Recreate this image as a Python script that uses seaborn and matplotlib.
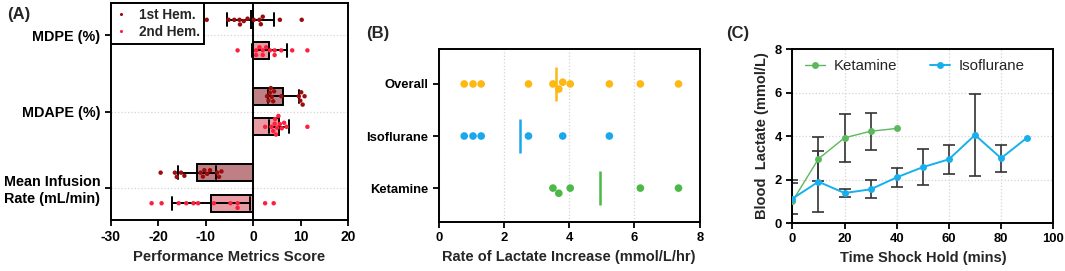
import numpy as np
import pandas as pd
import matplotlib
matplotlib.use('Agg')
import matplotlib.pyplot as plt
import seaborn as sns

# ---- panel A: performance metrics per hemorrhage
metrics = ['MDPE (%)', 'MDAPE (%)', 'Mean Infusion\nRate (mL/min)']
hems = ['1st Hem.', '2nd Hem.']
mdpe_1st = [-9.8, -5.2, -4.0, -2.9, -2.8, -2.0, -1.2, 0.1, 1.3, 1.6, 2.0, 5.6, 10.2]
mdpe_2nd = [-3.3, 0.6, 1.3, 2.0, 0.6, 2.0, 2.7, 3.5, 4.5, 4.5, 5.9, 8.2, 11.4]
mdape_1st = [2.9, 3.2, 3.5, 3.7, 3.9, 4.2, 4.4, 5.9, 9.6, 9.9, 10.1, 10.4, 10.8]
mdape_2nd = [2.5, 3.8, 4.2, 4.5, 4.6, 4.8, 5.0, 5.3, 5.6, 6.0, 6.5, 7.0, 11.4]
rate_1st = [-19.5, -16.5, -16.1, -15.2, -14.5, -11.1, -10.6, -10.3, -9.7, -9.1, -7.6, -6.7, -7.2]
rate_2nd = [-21.4, -19.3, -15.7, -14.1, -12.6, -11.6, -8.3, -4.8, -3.3, -3.3, 2.5, 4.3]

# ---- panel B: rate of lactate increase
groups_b = ['Overall', 'Isoflurane', 'Ketamine']
iso_rate = [0.78, 1.05, 1.30, 2.75, 3.80, 5.23]
ket_rate = [3.50, 3.68, 4.03, 6.18, 7.35]
overall_rate = [0.78, 1.05, 1.30, 2.75, 3.50, 3.68, 3.80, 4.03, 5.23, 6.18, 7.35]

# ---- panel C: blood lactate over time
ket_time = [0, 10, 20, 30, 40]
ket_mean = [1.00, 2.95, 3.92, 4.22, 4.35]
ket_sd = [0.98, 1.00, 1.10, 0.85, np.nan]
iso_time = [0, 10, 20, 30, 40, 50, 60, 70, 80, 90]
iso_mean = [1.12, 1.90, 1.38, 1.55, 2.10, 2.57, 2.93, 4.05, 2.98, 3.93]
iso_sd = [0.70, 1.40, 0.17, 0.42, 0.45, 0.82, 0.67, 1.90, 0.62, np.nan]

sns.set_theme(style='ticks')
plt.rcParams['font.family'] = ['Liberation Sans', 'DejaVu Sans']
plt.rcParams['font.weight'] = 'bold'
plt.rcParams['axes.labelweight'] = 'bold'
plt.rcParams['axes.unicode_minus'] = False
plt.rcParams['axes.edgecolor'] = 'black'
plt.rcParams['axes.linewidth'] = 1.4
plt.rcParams['xtick.major.width'] = 1.3
plt.rcParams['ytick.major.width'] = 1.3
plt.rcParams['xtick.major.size'] = 4
plt.rcParams['ytick.major.size'] = 4
plt.rcParams['xtick.color'] = 'black'
plt.rcParams['ytick.color'] = 'black'

hem_colors = {'1st Hem.': '#9b0d0d', '2nd Hem.': '#ff1f3d'}
bar_colors = {'1st Hem.': '#c9767c', '2nd Hem.': '#f58e98'}
b_colors = {'Overall': '#fdb813', 'Isoflurane': '#1aa7ec', 'Ketamine': '#4cb848'}
green = '#5cb85c'
blue = '#18b0ec'
grid_kw = dict(color='#d4d4d4', linestyle=':', linewidth=0.9)

fig = plt.figure(figsize=(10.65, 2.71), dpi=100)
axA = fig.add_axes([0.104, 0.188, 0.223, 0.801])
axB = fig.add_axes([0.412, 0.181, 0.245, 0.638])
axC = fig.add_axes([0.744, 0.177, 0.245, 0.642])

# ---------- (A)
rows = []
for m, vals1, vals2 in zip(metrics, [mdpe_1st, mdape_1st, rate_1st], [mdpe_2nd, mdape_2nd, rate_2nd]):
    rows += [(m, hems[0], v) for v in vals1]
    rows += [(m, hems[1], v) for v in vals2]
dfA = pd.DataFrame(rows, columns=['metric', 'hem', 'score'])

sns.barplot(data=dfA, x='score', y='metric', hue='hem', order=metrics, hue_order=hems,
            palette=bar_colors, errorbar='sd', capsize=0.35, gap=0.45,
            edgecolor='black', linewidth=1.4, err_kws={'color': 'black', 'linewidth': 1.4},
            legend=False, ax=axA)
sns.swarmplot(data=dfA, x='score', y='metric', hue='hem', order=metrics, hue_order=hems,
              palette=hem_colors, dodge=True, size=3.2, ax=axA)
axA.axvline(0, color='black', linewidth=1.4, zorder=1)
axA.set_xlim(-30, 20)
axA.set_ylim(2.42, -0.42)
axA.set_xticks([-30, -20, -10, 0, 10, 20])
axA.set_xlabel('Performance Metrics Score', fontsize=10.7)
axA.set_ylabel('')
axA.grid(axis='y', **grid_kw)
axA.set_axisbelow(True)
axA.tick_params(axis='x', labelsize=10)
axA.tick_params(axis='y', labelsize=10.4)
for t in axA.get_yticklabels():
    t.set_multialignment('center')
leg = axA.legend(loc='upper left', bbox_to_anchor=(0.0, 1.0), borderaxespad=0, fontsize=9.8,
                 frameon=True, fancybox=False, edgecolor='black', handletextpad=0.9,
                 handlelength=0.8, borderpad=0.35, labelspacing=0.25, markerscale=0.7,
                 framealpha=1)
leg.get_frame().set_linewidth(1.4)

# ---------- (B)
dfB = pd.DataFrame(
    [('Overall', v) for v in overall_rate]
    + [('Isoflurane', v) for v in iso_rate]
    + [('Ketamine', v) for v in ket_rate],
    columns=['group', 'rate'])
sns.swarmplot(data=dfB, x='rate', y='group', hue='group', order=groups_b,
              palette=b_colors, size=5.5, legend=False, ax=axB)
sns.pointplot(data=dfB, x='rate', y='group', hue='group', order=groups_b,
              palette=b_colors, estimator='mean', errorbar=None, markers='|',
              linestyles='none', markersize=24, markeredgewidth=1.8, legend=False, ax=axB)
axB.set_xlim(0, 8)
axB.set_ylim(2.65, -0.67)
axB.set_xticks([0, 2, 4, 6, 8])
axB.set_xlabel('Rate of Lactate Increase (mmol/L/hr)', fontsize=10.5)
axB.set_ylabel('')
axB.grid(axis='x', **grid_kw)
axB.set_axisbelow(True)
axB.tick_params(axis='both', labelsize=9.4)

# ---------- (C)
dfC = pd.DataFrame(
    [('Ketamine', t, v) for t, v in zip(ket_time, ket_mean)]
    + [('Isoflurane', t, v) for t, v in zip(iso_time, iso_mean)],
    columns=['group', 'time', 'lactate'])
axC.errorbar(ket_time, ket_mean, yerr=ket_sd, fmt='none', ecolor='#333333',
             elinewidth=1.2, capsize=4, capthick=1.2, zorder=2)
axC.errorbar(iso_time, iso_mean, yerr=iso_sd, fmt='none', ecolor='#333333',
             elinewidth=1.2, capsize=4, capthick=1.2, zorder=2)
sns.lineplot(data=dfC[dfC.group == 'Ketamine'], x='time', y='lactate', color=green,
             marker='o', markersize=6, markeredgewidth=0, linewidth=1.0,
             label='Ketamine', zorder=3, ax=axC)
sns.lineplot(data=dfC[dfC.group == 'Isoflurane'], x='time', y='lactate', color=blue,
             marker='o', markersize=7.5, markeredgewidth=0, linewidth=1.4,
             label='Isoflurane', zorder=3, ax=axC)
axC.set_xlim(0, 100)
axC.set_ylim(0, 8)
axC.set_xticks([0, 20, 40, 60, 80, 100])
axC.set_yticks([0, 2, 4, 6, 8])
axC.set_xlabel('Time Shock Hold (mins)', fontsize=10.5)
axC.set_ylabel('Blood  Lactate (mmol/L)', fontsize=10.5)
axC.grid(**grid_kw)
axC.set_axisbelow(True)
axC.tick_params(axis='both', labelsize=9.4)
handles, labels = axC.get_legend_handles_labels()
for h in handles:
    h.set_markersize(5)
axC.legend(handles, labels, loc='upper center', bbox_to_anchor=(0.47, 1.02), ncol=2,
           frameon=False, prop={'weight': 'normal', 'size': 10.8}, columnspacing=2.2,
           handlelength=1.3, handletextpad=0.6)

for ax in (axA, axB, axC):
    for s in ax.spines.values():
        s.set_visible(True)
        s.set_color('black')
        s.set_linewidth(1.4)

fig.text(0.007, 0.945, '(A)', fontsize=12, fontweight='bold', va='center')
fig.text(0.344, 0.875, '(B)', fontsize=12, fontweight='bold', va='center')
fig.text(0.682, 0.875, '(C)', fontsize=12, fontweight='bold', va='center')

fig.savefig('out.png', dpi=100)
